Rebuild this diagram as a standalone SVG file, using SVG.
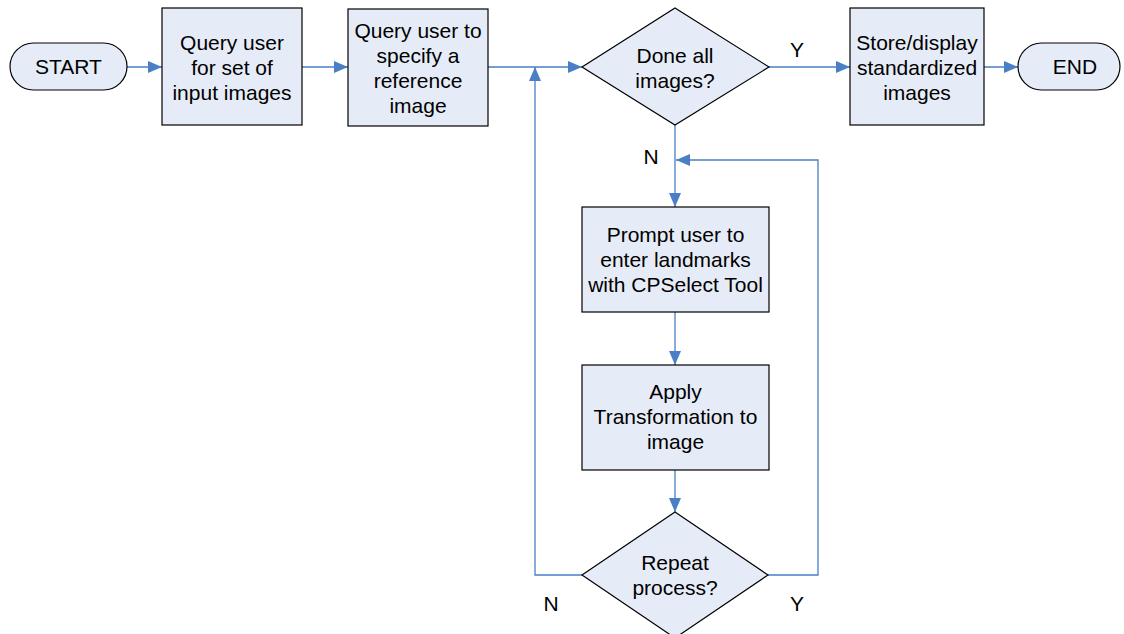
<svg xmlns="http://www.w3.org/2000/svg" width="1124" height="634" viewBox="0 0 1124 634">
  <defs>
    <marker id="arrow" viewBox="0 0 14 12" refX="14" refY="6" markerWidth="14" markerHeight="12" markerUnits="userSpaceOnUse" orient="auto">
      <path d="M0,0 L14,6 L0,12 Z" fill="#4a7ec6"/>
    </marker>
    <style>
      .shape { fill: #e6ecf7; stroke: #000; stroke-width: 1.2; }
      .conn { fill: none; stroke: #4a7ec6; stroke-width: 1.3; }
      text { font-family: "Liberation Sans", Arial, sans-serif; font-size: 21px; fill: #000; text-anchor: middle; dominant-baseline: central; }
    </style>
  </defs>
  <rect width="1124" height="634" fill="#fff"/>

  <g id="connectors">
    <path class="conn" d="M127,67 H162" marker-end="url(#arrow)"/>
    <path class="conn" d="M302,67 H348" marker-end="url(#arrow)"/>
    <path class="conn" d="M488,67 H582" marker-end="url(#arrow)"/>
    <path class="conn" d="M769,67 H850" marker-end="url(#arrow)"/>
    <path class="conn" d="M984,67 H1018" marker-end="url(#arrow)"/>
    <path class="conn" d="M675,125 V207" marker-end="url(#arrow)"/>
    <path class="conn" d="M675,312 V365" marker-end="url(#arrow)"/>
    <path class="conn" d="M675,470 V512" marker-end="url(#arrow)"/>
    <path class="conn" d="M582,575 H535 V67" marker-end="url(#arrow)"/>
    <path class="conn" d="M768,575 H818 V160 H676" marker-end="url(#arrow)"/>
    <text x="797" y="49">Y</text>
    <text x="651" y="156">N</text>
    <text x="551" y="603">N</text>
    <text x="797" y="603">Y</text>
  </g>

  <g id="start">
    <rect class="shape" x="10" y="43" width="117" height="47" rx="23.5"/>
    <text x="68.5" y="66.5">START</text>
  </g>

  <g id="query-inputs">
    <rect class="shape" x="162" y="8" width="140" height="117"/>
    <text x="232" y="42">Query user</text>
    <text x="232" y="67">for set of</text>
    <text x="232" y="92">input images</text>
  </g>

  <g id="query-reference">
    <rect class="shape" x="348" y="9" width="140" height="117"/>
    <text x="418" y="30">Query user to</text>
    <text x="418" y="55">specify a</text>
    <text x="418" y="80">reference</text>
    <text x="418" y="105">image</text>
  </g>

  <g id="done-all">
    <polygon class="shape" points="675,8 769,67 675,125 582,67"/>
    <text x="675" y="55">Done all</text>
    <text x="675" y="80">images?</text>
  </g>

  <g id="store-display">
    <rect class="shape" x="850" y="8" width="134" height="117"/>
    <text x="917" y="42">Store/display</text>
    <text x="917" y="67">standardized</text>
    <text x="917" y="92">images</text>
  </g>

  <g id="end">
    <rect class="shape" x="1018" y="43" width="102" height="47" rx="23.5"/>
    <text x="1075" y="66.5">END</text>
  </g>

  <g id="prompt-landmarks">
    <rect class="shape" x="582" y="207" width="187" height="105"/>
    <text x="675.5" y="234">Prompt user to</text>
    <text x="675.5" y="259">enter landmarks</text>
    <text x="675.5" y="284">with CPSelect Tool</text>
  </g>

  <g id="apply-transform">
    <rect class="shape" x="582" y="365" width="187" height="105"/>
    <text x="675.5" y="391">Apply</text>
    <text x="675.5" y="416">Transformation to</text>
    <text x="675.5" y="441">image</text>
  </g>

  <g id="repeat">
    <polygon class="shape" points="675,512 768,575 675,638 582,575"/>
    <text x="675" y="562">Repeat</text>
    <text x="675" y="587">process?</text>
  </g>
</svg>
